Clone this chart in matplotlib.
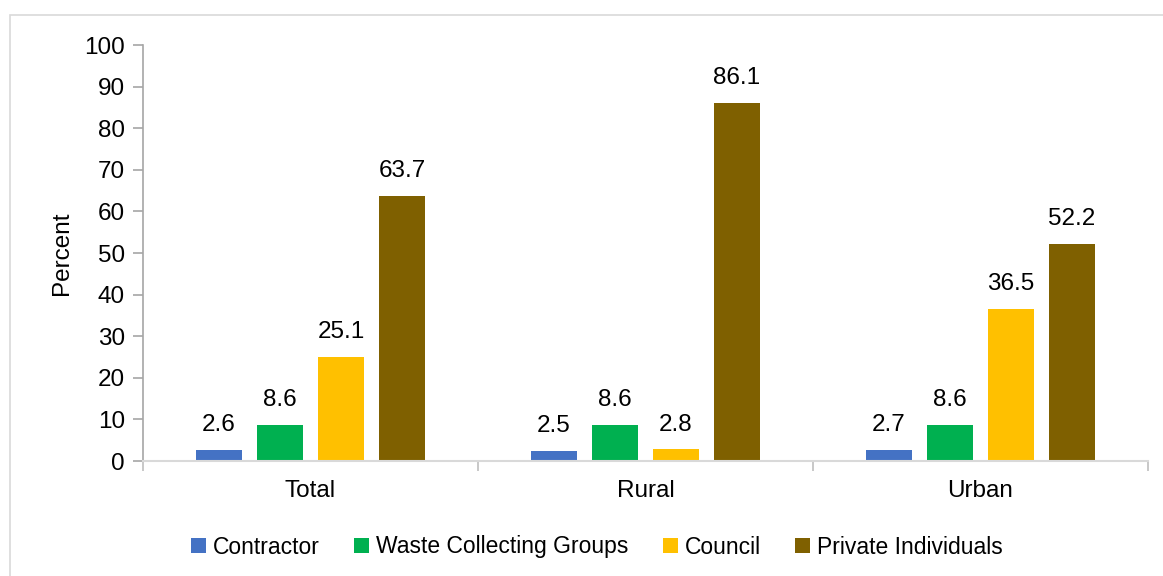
import matplotlib.pyplot as plt
import numpy as np
from matplotlib.patches import Rectangle

plt.rcParams['font.family'] = ['Liberation Sans', 'DejaVu Sans']

categories = ['Total', 'Rural', 'Urban']
series_names = ['Contractor', 'Waste Collecting Groups', 'Council', 'Private Individuals']
contractor = [2.6, 2.5, 2.7]
waste_groups = [8.6, 8.6, 8.6]
council = [25.1, 2.8, 36.5]
private = [63.7, 86.1, 52.2]
colors = ['#4472C4', '#00B050', '#FFC000', '#7F6000']

series = [contractor, waste_groups, council, private]

fig = plt.figure(figsize=(11.63, 5.76), dpi=100)
ax = fig.add_axes([143 / 1163, 1 - 461 / 576, 1005 / 1163, 416 / 576])

# light border around the chart area
fig.patches.append(Rectangle((10 / 1163, -0.1), 1.2, 1 - 15 / 576 + 0.1, transform=fig.transFigure,
                             fill=False, edgecolor='#D9D9D9', linewidth=1.2))

x = np.arange(len(categories))
width = 0.14
step = 0.182
for i, (vals, name, c) in enumerate(zip(series, series_names, colors)):
    pos = x + (i - 1.5) * step
    bars = ax.bar(pos, vals, width, color=c, label=name)
    for b, v in zip(bars, vals):
        ax.text(b.get_x() + b.get_width() / 2, v + 3.3, f'{v:.1f}', ha='center', va='bottom', fontsize=17.5)

ax.set_xlim(-0.5, 2.5)
ax.set_ylim(0, 100)
ax.set_yticks(range(0, 101, 10))
ax.set_xticks(x)
ax.set_xticklabels(categories)
ax.set_xticks([-0.5, 0.5, 1.5, 2.5], minor=True)
ax.tick_params(axis='x', which='major', length=0, pad=14, labelsize=17.5)
ax.tick_params(axis='x', which='minor', length=7, color='#BFBFBF', width=1.2)
ax.tick_params(axis='y', length=7, color='#A6A6A6', width=1.2, labelsize=17.5, pad=6)
for s in ['top', 'right']:
    ax.spines[s].set_visible(False)
ax.spines['left'].set_color('#A6A6A6')
ax.spines['bottom'].set_color('#D9D9D9')
ax.spines['left'].set_linewidth(1.2)
ax.spines['bottom'].set_linewidth(1.5)
ax.set_ylabel('Percent', fontsize=17.5, labelpad=8)

fig.legend(loc='center', bbox_to_anchor=(597 / 1163, 1 - 547 / 576), ncol=4, frameon=False,
           fontsize=16.5, handlelength=0.65, handleheight=0.65, handletextpad=0.3, columnspacing=1.5)

fig.savefig('out.png', dpi=100)
